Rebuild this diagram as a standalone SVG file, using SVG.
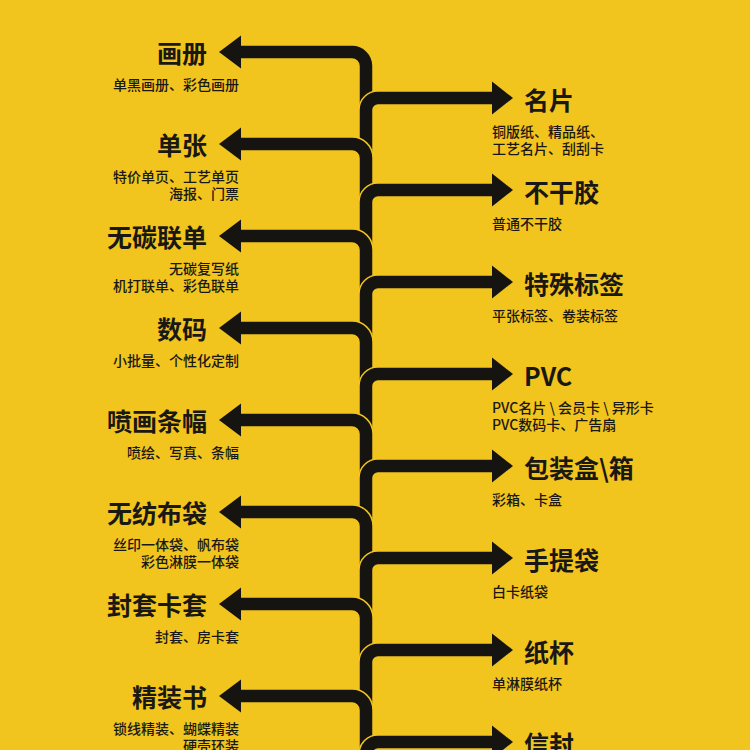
<svg xmlns="http://www.w3.org/2000/svg" xmlns:xlink="http://www.w3.org/1999/xlink" width="750" height="750" viewBox="0 0 750 750">
<style>
.bg{fill:#F2C41E}
.ol{fill:none;stroke:#F2C41E;stroke-width:15.5}
.ln{fill:none;stroke:#161410;stroke-width:12.5}
.hd{fill:#161410}
.t{font-family:"Noto Sans CJK SC","Noto Sans",sans-serif;font-weight:700;font-size:25px;fill:#1a1814}
.s{font-family:"Noto Sans CJK SC","Noto Sans",sans-serif;font-weight:500;font-size:14px;fill:#1a1814}
.l{text-anchor:end}
</style>
<defs>
<polygon id="hl" points="219,0 241,-16.5 241,16.5"/>
<polygon id="hr" points="513,0 492,-16.5 492,16.5"/>
</defs>
<rect class="bg" x="0" y="0" width="750" height="750"/>
<g id="connectors">
<path class="ol" d="M240 52H352A14 14 0 0 1 366 66V132"/><path class="ln" d="M240 52H352A14 14 0 0 1 366 66V132"/><use class="hd" xlink:href="#hl" transform="translate(0,52)"/>
<path class="ol" d="M366 178V110A12 12 0 0 1 378 98H494"/><path class="ln" d="M366 178V110A12 12 0 0 1 378 98H494"/><use class="hd" xlink:href="#hr" transform="translate(0,98)"/>
<path class="ol" d="M240 144H352A14 14 0 0 1 366 158V224"/><path class="ln" d="M240 144H352A14 14 0 0 1 366 158V224"/><use class="hd" xlink:href="#hl" transform="translate(0,144)"/>
<path class="ol" d="M366 270V202A12 12 0 0 1 378 190H494"/><path class="ln" d="M366 270V202A12 12 0 0 1 378 190H494"/><use class="hd" xlink:href="#hr" transform="translate(0,190)"/>
<path class="ol" d="M240 236H352A14 14 0 0 1 366 250V316"/><path class="ln" d="M240 236H352A14 14 0 0 1 366 250V316"/><use class="hd" xlink:href="#hl" transform="translate(0,236)"/>
<path class="ol" d="M366 362V294A12 12 0 0 1 378 282H494"/><path class="ln" d="M366 362V294A12 12 0 0 1 378 282H494"/><use class="hd" xlink:href="#hr" transform="translate(0,282)"/>
<path class="ol" d="M240 328H352A14 14 0 0 1 366 342V408"/><path class="ln" d="M240 328H352A14 14 0 0 1 366 342V408"/><use class="hd" xlink:href="#hl" transform="translate(0,328)"/>
<path class="ol" d="M366 454V386A12 12 0 0 1 378 374H494"/><path class="ln" d="M366 454V386A12 12 0 0 1 378 374H494"/><use class="hd" xlink:href="#hr" transform="translate(0,374)"/>
<path class="ol" d="M240 420H352A14 14 0 0 1 366 434V500"/><path class="ln" d="M240 420H352A14 14 0 0 1 366 434V500"/><use class="hd" xlink:href="#hl" transform="translate(0,420)"/>
<path class="ol" d="M366 546V478A12 12 0 0 1 378 466H494"/><path class="ln" d="M366 546V478A12 12 0 0 1 378 466H494"/><use class="hd" xlink:href="#hr" transform="translate(0,466)"/>
<path class="ol" d="M240 512H352A14 14 0 0 1 366 526V592"/><path class="ln" d="M240 512H352A14 14 0 0 1 366 526V592"/><use class="hd" xlink:href="#hl" transform="translate(0,512)"/>
<path class="ol" d="M366 638V570A12 12 0 0 1 378 558H494"/><path class="ln" d="M366 638V570A12 12 0 0 1 378 558H494"/><use class="hd" xlink:href="#hr" transform="translate(0,558)"/>
<path class="ol" d="M240 604H352A14 14 0 0 1 366 618V684"/><path class="ln" d="M240 604H352A14 14 0 0 1 366 618V684"/><use class="hd" xlink:href="#hl" transform="translate(0,604)"/>
<path class="ol" d="M366 730V662A12 12 0 0 1 378 650H494"/><path class="ln" d="M366 730V662A12 12 0 0 1 378 650H494"/><use class="hd" xlink:href="#hr" transform="translate(0,650)"/>
<path class="ol" d="M240 696H352A14 14 0 0 1 366 710V776"/><path class="ln" d="M240 696H352A14 14 0 0 1 366 710V776"/><use class="hd" xlink:href="#hl" transform="translate(0,696)"/>
<path class="ol" d="M366 822V754A12 12 0 0 1 378 742H494"/><path class="ln" d="M366 822V754A12 12 0 0 1 378 742H494"/><use class="hd" xlink:href="#hr" transform="translate(0,742)"/>
</g>
<g id="n-huace"><text class="t l" x="207" y="63">画册</text><text class="s l" x="239" y="90">单黑画册、彩色画册</text></g>
<g id="n-danzhang"><text class="t l" x="207" y="155">单张</text><text class="s l" x="239" y="182">特价单页、工艺单页</text><text class="s l" x="239" y="199">海报、门票</text></g>
<g id="n-wutan"><text class="t l" x="207" y="247">无碳联单</text><text class="s l" x="239" y="274">无碳复写纸</text><text class="s l" x="239" y="291">机打联单、彩色联单</text></g>
<g id="n-shuma"><text class="t l" x="207" y="339">数码</text><text class="s l" x="239" y="366">小批量、个性化定制</text></g>
<g id="n-penhua"><text class="t l" x="207" y="431">喷画条幅</text><text class="s l" x="239" y="458">喷绘、写真、条幅</text></g>
<g id="n-wufang"><text class="t l" x="207" y="523">无纺布袋</text><text class="s l" x="239" y="550">丝印一体袋、帆布袋</text><text class="s l" x="239" y="567">彩色淋膜一体袋</text></g>
<g id="n-fengtao"><text class="t l" x="207" y="615">封套卡套</text><text class="s l" x="239" y="642">封套、房卡套</text></g>
<g id="n-jingzhuang"><text class="t l" x="207" y="707">精装书</text><text class="s l" x="239" y="734">锁线精装、蝴蝶精装</text><text class="s l" x="239" y="751">硬壳环装</text></g>
<g id="n-mingpian"><text class="t" x="524" y="110">名片</text><text class="s" x="492" y="137">铜版纸、精品纸、</text><text class="s" x="492" y="154">工艺名片、刮刮卡</text></g>
<g id="n-buganjiao"><text class="t" x="524" y="202">不干胶</text><text class="s" x="492" y="229">普通不干胶</text></g>
<g id="n-teshu"><text class="t" x="524" y="294">特殊标签</text><text class="s" x="492" y="321">平张标签、卷装标签</text></g>
<g id="n-pvc"><text class="t" x="524" y="386">PVC</text><text class="s" x="492" y="413">PVC名片 \ 会员卡 \ 异形卡</text><text class="s" x="492" y="430">PVC数码卡、广告扇</text></g>
<g id="n-baozhuang"><text class="t" x="524" y="478">包装盒\箱</text><text class="s" x="492" y="505">彩箱、卡盒</text></g>
<g id="n-shoutidai"><text class="t" x="524" y="570">手提袋</text><text class="s" x="492" y="597">白卡纸袋</text></g>
<g id="n-zhibei"><text class="t" x="524" y="662">纸杯</text><text class="s" x="492" y="689">单淋膜纸杯</text></g>
<g id="n-xinfeng"><text class="t" x="524" y="754">信封</text></g>
</svg>
